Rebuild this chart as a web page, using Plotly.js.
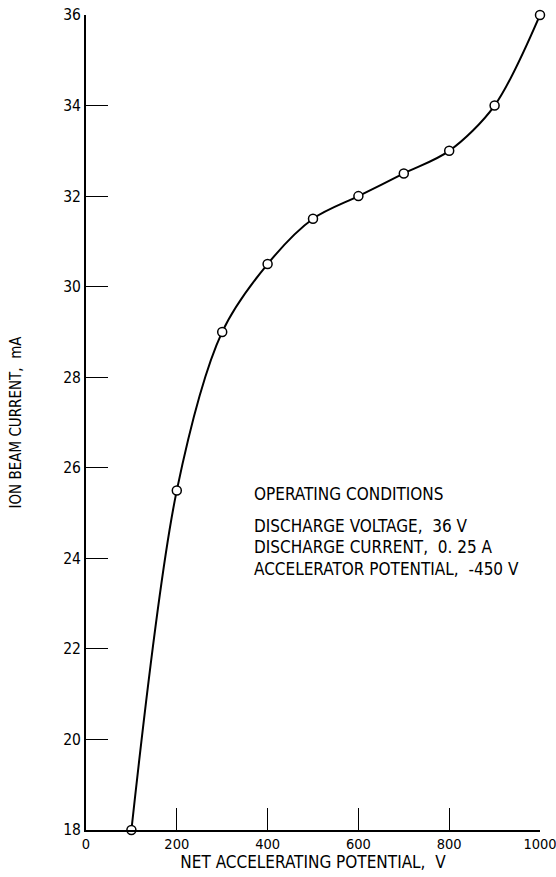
<!DOCTYPE html>
<html>
<head>
<meta charset="utf-8">
<script src="https://cdn.plot.ly/plotly-3.0.1.min.js"></script>
<style>
  html, body { margin: 0; padding: 0; background: #fff; }
  #chart { width: 556px; height: 877px; }
</style>
</head>
<body>
<div id="chart"></div>
<script>
// Net accelerating potential (V) and measured ion beam current (mA)
const potential = [100, 200, 300, 400, 500, 600, 700, 800, 900, 1000];
const beamCurrent = [18, 25.5, 29, 30.5, 31.5, 32, 32.5, 33, 34, 36];

const xTicks = [0, 200, 400, 600, 800, 1000];
const yTicks = [18, 20, 22, 24, 26, 28, 30, 32, 34, 36];

const conditionLines = [
  "OPERATING CONDITIONS",
  "DISCHARGE VOLTAGE,  36 V",
  "DISCHARGE CURRENT,  0. 25 A",
  "ACCELERATOR POTENTIAL,  -450 V"
];
const conditionY = [25.42, 24.71, 24.25, 23.76];

const FONT = '"DejaVu Sans Condensed", "Liberation Sans Narrow", "Liberation Sans", sans-serif';

const trace = {
  x: potential,
  y: beamCurrent,
  type: 'scatter',
  mode: 'lines+markers',
  line: { shape: 'spline', smoothing: 0.9, color: '#000', width: 2 },
  marker: { symbol: 'circle', size: 9, color: '#fff', line: { color: '#000', width: 1.5 } },
  cliponaxis: false,
  hoverinfo: 'skip'
};

const annotations = conditionLines.map((t, i) => ({
  text: t,
  x: 366,
  y: conditionY[i],
  xref: 'x',
  yref: 'y',
  xanchor: 'left',
  yanchor: 'middle',
  showarrow: false,
  font: { family: FONT, size: 17, color: '#000' }
}));

const layout = {
  width: 556,
  height: 877,
  margin: { l: 86, r: 16, t: 15, b: 47 },
  paper_bgcolor: '#fff',
  plot_bgcolor: '#fff',
  showlegend: false,
  font: { family: FONT, color: '#000', size: 15 },
  xaxis: {
    range: [0, 1000],
    tickvals: xTicks,
    ticktext: xTicks.map(String),
    ticks: 'inside',
    ticklen: 22,
    tickwidth: 1.2,
    tickcolor: '#000',
    ticklabeloverflow: 'allow',
    showline: true,
    linecolor: '#000',
    linewidth: 2,
    showgrid: false,
    zeroline: false,
    tickfont: { family: FONT, size: 14.5 },
    title: { text: 'NET ACCELERATING POTENTIAL,  V', font: { family: FONT, size: 17 }, standoff: 3 }
  },
  yaxis: {
    range: [18, 36],
    tickvals: yTicks,
    ticktext: yTicks.map(String),
    ticks: 'inside',
    ticklen: 22,
    tickwidth: 1.2,
    tickcolor: '#000',
    ticklabeloverflow: 'allow',
    showline: true,
    linecolor: '#000',
    linewidth: 2,
    showgrid: false,
    zeroline: false,
    tickfont: { family: FONT, size: 15.5 },
    title: { text: 'ION BEAM CURRENT,  mA', font: { family: FONT, size: 15 }, standoff: 38 }
  },
  annotations: annotations
};

Plotly.newPlot('chart', [trace], layout, { displayModeBar: false, staticPlot: true });
</script>
</body>
</html>
